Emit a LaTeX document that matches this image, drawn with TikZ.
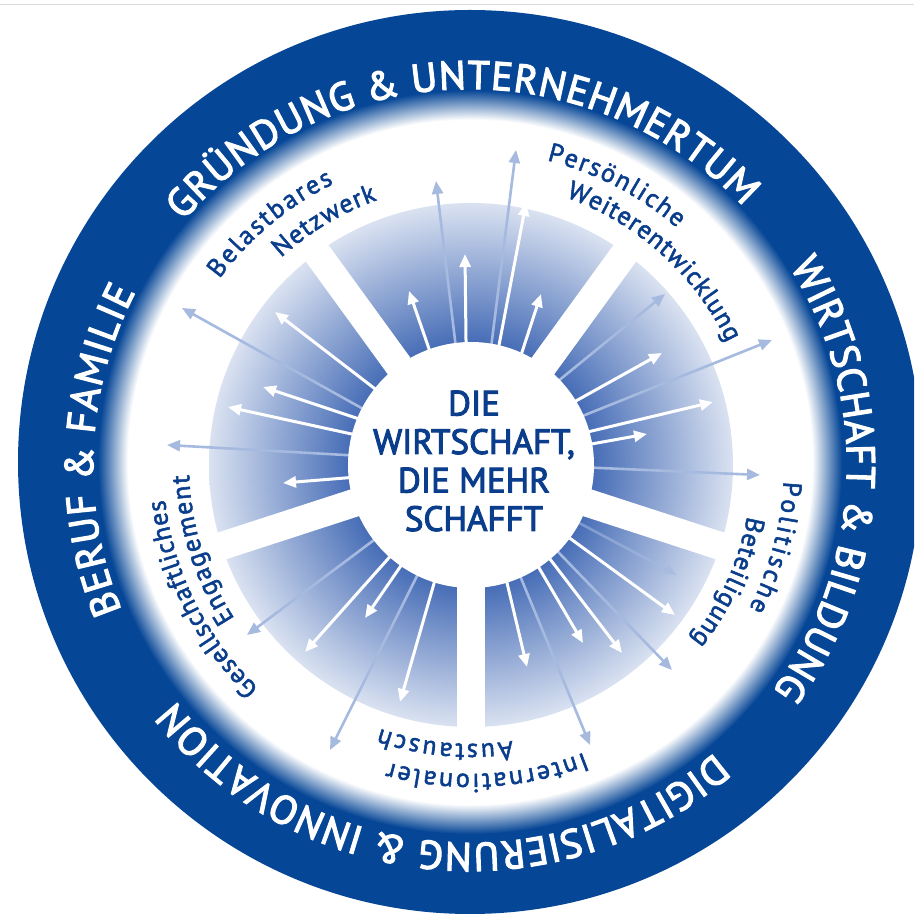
\documentclass[tikz,border=0pt]{standalone}
\usepackage{fontspec}
\setmainfont{PT Sans}
\newfontfamily\medfont{PT Sans}[FakeBold=3]
\newfontfamily\labmed{PT Sans}[FakeBold=2]
\usetikzlibrary{arrows.meta,calc,decorations.text}
\definecolor{ringblue}{RGB}{6,70,150}
\definecolor{textblue}{RGB}{10,62,140}
\definecolor{fanin}{RGB}{72,110,183}
\definecolor{fanout}{RGB}{218,226,241}
\definecolor{arrlight}{RGB}{166,186,224}
\pgfdeclareradialshading{ringfade}{\pgfpoint{0bp}{0bp}}{color(0bp)=(white); color(23bp)=(white); color(25bp)=(ringblue); color(50bp)=(ringblue)}
\pgfdeclareradialshading{fanshade}{\pgfpoint{0bp}{0bp}}{color(0bp)=(fanin); color(11.8bp)=(fanin); color(25bp)=(fanout); color(50bp)=(fanout)}
\newcommand{\ringfont}{\medfont\fontsize{40}{42}\selectfont}
\newcommand{\labfont}{\labmed\fontsize{26}{28}\selectfont}
% center, radius, start, end, color, format, text
\newcommand{\arctext}[7]{\path[decorate, decoration={text along path, text={|#6|#7}, text color=#5, text align=fit to path}] ($(#1)+(#3:#2)$) arc[start angle=#3, end angle=#4, radius=#2pt];}
\newcommand{\warr}[4]{\draw[whitearrow] ($(#1,#2)!-25pt!(#3,#4)$) -- (#3,#4);}
\newcommand{\larr}[4]{\draw[lightarrow] ($(#1,#2)!-25pt!(#3,#4)$) -- (#3,#4);}
\tikzset{
  whitearrow/.style={draw=white, line width=3pt, -{Triangle[length=13pt, width=11pt]}},
  lightarrow/.style={draw=arrlight, line width=2.6pt, -{Triangle[length=13pt, width=11pt]}},
  centertext/.style={font=\medfont\fontsize{35}{38.5}\selectfont, text=textblue, align=center, inner sep=0pt}
}
\begin{document}
\begin{tikzpicture}[x=1pt,y=1pt]
\useasboundingbox (0,0) rectangle (914,916);
\clip (0,0) rectangle (914,916);
\fill[white] (0,0) rectangle (914,916);
\coordinate (C0) at (470,454);
\coordinate (C1) at (471,451);
\coordinate (C2) at (470,450);
\draw[black!15, line width=1pt] (0,911) -- (914,911);
% outer ring
\fill[ringblue] (C0) circle[radius=452pt];
\shade[shading=ringfade] (C0) circle[radius=372pt];
% sectors
\shade[shading=fanshade] (C1) circle[radius=262pt];
\foreach \a in {126,54,-18,-90,198} \draw[white, line width=28pt] (C1) -- ++(\a:285);
% arrows (image coordinates)
\begin{scope}[yshift=916pt, yscale=-1]
% top
\larr{455}{340}{436}{181}
\larr{492}{340}{516}{150}
\warr{427}{343}{409}{291}
\warr{466}{340}{465}{254}
\warr{500}{340}{526}{203}
\warr{524}{346}{541}{294}
% right
\larr{568}{373}{665}{294}
\larr{590}{413}{772}{340}
\larr{600}{468}{760}{475}
\warr{583}{397}{662}{353}
\warr{596}{430}{713}{402}
\warr{597}{443}{647}{434}
% lower right
\draw[lightarrow, opacity=0.55] ($(583,525)!-25pt!(677,575)$) -- (677,575);
\larr{563}{557}{672}{670}
\larr{523}{583}{590}{745}
\warr{575}{542}{675}{615}
\warr{553}{563}{622}{653}
\warr{542}{573}{583}{643}
\warr{508}{587}{527}{667}
% lower left
\larr{370}{543}{247}{635}
\larr{415}{580}{330}{750}
\warr{387}{560}{305}{652}
\warr{398}{570}{365}{618}
\warr{433}{587}{400}{702}
% left
\larr{365}{410}{182}{308}
\larr{345}{455}{167}{445}
\warr{370}{385}{275}{312}
\warr{353}{417}{263}{387}
\warr{347}{433}{228}{407}
\warr{345}{478}{283}{483}
\end{scope}
% centre
\fill[white] (C1) circle[radius=123pt];
\node[centertext] (title) at (474,455) {DIE\\WIRTSCHAFT,\\DIE MEHR\\SCHAFFT};
% ring texts
\arctext{C2}{377}{139.5}{43.5}{white}{\ringfont}{GRÜNDUNG {\&} UNTERNEHMERTUM}
\arctext{C2}{377}{32}{-36.5}{white}{\ringfont}{WIRTSCHAFT {\&} BILDUNG}
\arctext{C2}{377}{-49.5}{-141.5}{white}{\ringfont}{DIGITALISIERUNG {\&} INNOVATION}
\arctext{C2}{377}{202.5}{152.5}{white}{\ringfont}{BERUF {\&} FAMILIE}
% inner labels
\arctext{C1}{313}{143.5}{116}{textblue}{\labfont}{Belastbares}
\arctext{C1}{281}{132.5}{109.5}{textblue}{\labfont}{Netzwerk}
\arctext{C1}{314}{76}{49}{textblue}{\labfont}{Persönliche}
\arctext{C1}{284}{70.5}{25.5}{textblue}{\labfont}{Weiterentwicklung}
\arctext{C1}{313}{-3}{-27.3}{textblue}{\labfont}{Politische}
\arctext{C1}{281}{-10.5}{-38.5}{textblue}{\labfont}{Beteiligung}
\arctext{C1}{309}{-68.5}{-105.5}{textblue}{\labfont}{Internationaler}
\arctext{C1}{279}{-81.5}{-109}{textblue}{\labfont}{Austausch}
\arctext{C1}{308}{226.5}{186.5}{textblue}{\labfont}{Gesellschaftliches}
\arctext{C1}{282}{213}{182}{textblue}{\labfont}{Engagement}
\end{tikzpicture}
\end{document}
